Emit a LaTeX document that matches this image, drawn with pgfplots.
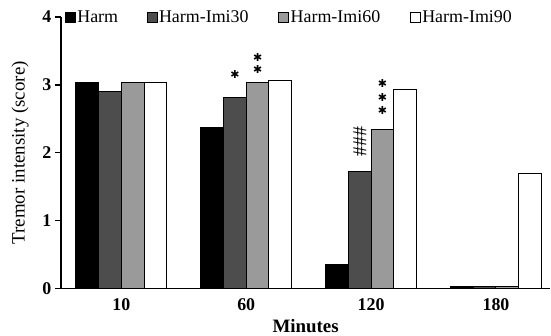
\documentclass[border=0pt]{standalone}
\usepackage{fontspec}
\setmainfont{Liberation Serif}
\newfontfamily\symfont{DejaVu Sans}
\usepackage{pgfplots}
\pgfplotsset{compat=1.18}
\definecolor{dgray}{HTML}{4D4D4D}
\definecolor{lgray}{HTML}{9A9A9A}
\begin{document}
\begin{tikzpicture}[x=1bp,y=1bp]
\begin{axis}[
  name=ax,
  scale only axis,
  width=490bp, height=272bp,
  xmin=-0.484, xmax=3.435,
  ymin=0, ymax=4,
  axis lines=left,
  axis line style={line width=1.4pt, -},
  ybar=0pt,
  bar width=0.182,
  xtick={0,1,2,3},
  xticklabels={10,60,120,180},
  major x tick style={draw=none},
  extra x ticks={-0.484,0.5,1.5,2.5},
  extra x tick labels={},
  extra x tick style={major tick length=6bp, tick style={line width=1.4pt,black}, tick align=outside},
  ytick={0,1,2,3,4},
  y tick style={line width=1.4pt, black},
  tick align=outside,
  major tick length=6bp,
  /pgf/number format/assume math mode=true,
  tick label style={font=\fontsize{18}{20}\selectfont\bfseries},
  xlabel={\bfseries Minutes},
  ylabel={Tremor intensity (score)},
  xlabel style={font=\fontsize{19}{20}\selectfont, yshift=10bp},
  ylabel style={font=\fontsize{19}{20}\selectfont, yshift=7bp},
  clip=false,
  legend columns=4,
  legend style={draw=none, fill=none, at={(rel axis cs:0.002,1.0)}, anchor=west,
    font=\fontsize{18}{20}\selectfont,
    nodes={inner sep=1.5bp},
    /tikz/column sep=0bp},
  legend cell align=left,
  legend image code/.code={\draw[#1, line width=0.8pt] (0bp,-5bp) rectangle (10bp,5bp);},
]
\addplot[fill=black, draw=black, line width=1pt] coordinates {(0,3.04) (1,2.37) (2,0.35) (3,0.03)};
\addplot[fill=dgray, draw=black, line width=1pt] coordinates {(0,2.90) (1,2.81) (2,1.72) (3,0.03)};
\addplot[fill=lgray, draw=black, line width=1pt] coordinates {(0,3.03) (1,3.03) (2,2.35) (3,0.03)};
\addplot[fill=white, draw=black, line width=1pt] coordinates {(0,3.03) (1,3.07) (2,2.93) (3,1.70)};
\legend{\makebox[68bp][l]{Harm},\makebox[118bp][l]{Harm-Imi30},\makebox[118bp][l]{Harm-Imi60},Harm-Imi90}
\node[font=\symfont\fontsize{11}{11}\selectfont] at (axis cs:0.909,3.15) {✱};
\node[font=\symfont\fontsize{11}{11}\selectfont] at (axis cs:1.091,3.22) {✱};
\node[font=\symfont\fontsize{11}{11}\selectfont] at (axis cs:1.091,3.41) {✱};
\node[font=\symfont\fontsize{11}{11}\selectfont] at (axis cs:2.091,2.63) {✱};
\node[font=\symfont\fontsize{11}{11}\selectfont] at (axis cs:2.091,2.82) {✱};
\node[font=\symfont\fontsize{11}{11}\selectfont] at (axis cs:2.091,3.02) {✱};
\node[rotate=90, font=\fontsize{20}{20}\selectfont, inner sep=0pt] at (axis cs:1.91,2.17) {\#\#\#};
\end{axis}
\path ([xshift=-61bp,yshift=-46bp]ax.south west) rectangle ([yshift=17bp]ax.north east);
\end{tikzpicture}
\end{document}
